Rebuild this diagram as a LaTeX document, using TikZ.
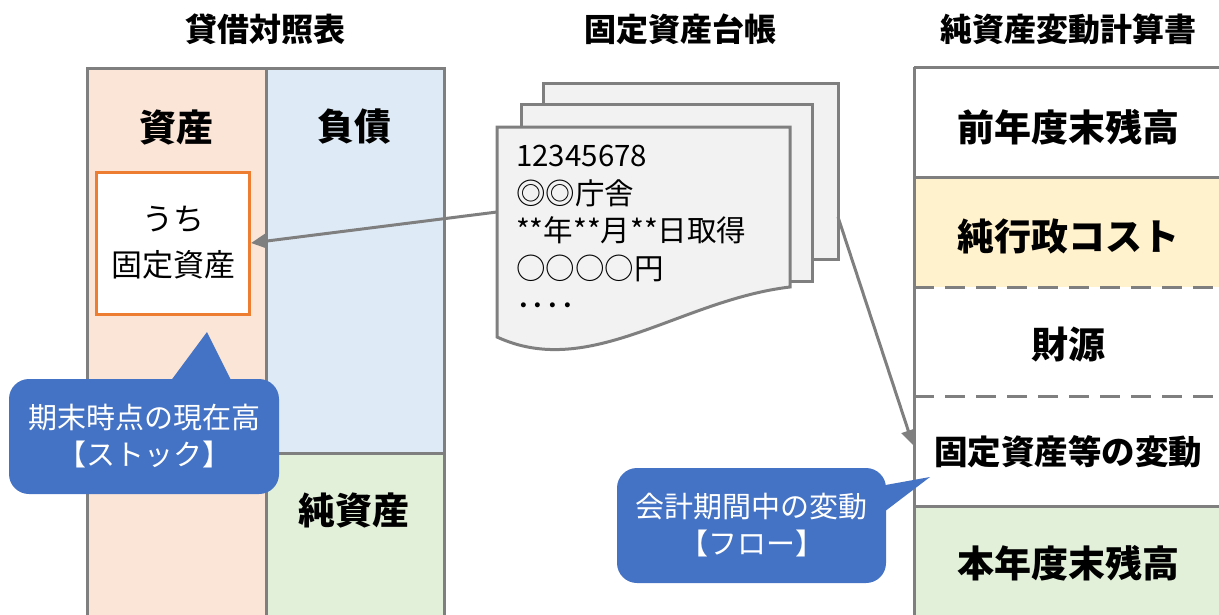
\documentclass[tikz,border=0pt]{standalone}
\usepackage{fontspec}
\setmainfont{Noto Sans CJK JP}
\usetikzlibrary{arrows.meta,calc}
\definecolor{lg}{HTML}{7F7F7F}
\definecolor{peach}{HTML}{FBE5D6}
\definecolor{lblue}{HTML}{DEEBF7}
\definecolor{lgreen}{HTML}{E2F0D9}
\definecolor{lyellow}{HTML}{FFF2CC}
\definecolor{cblue}{HTML}{4472C4}
\definecolor{orng}{HTML}{ED7D31}
\definecolor{paper}{HTML}{F2F2F2}
\tikzset{
  cell/.style={anchor=north west, inner sep=0pt, draw=lg, line width=3pt},
  rowcell/.style={anchor=north west, inner sep=0pt, minimum width=308pt},
  head/.style={font=\fontsize{32}{38}\selectfont\bfseries, inner sep=0pt},
  big/.style={font=\fontsize{37}{44}\selectfont\bfseries, inner sep=0pt},
  callout/.style={fill=cblue, rounded corners=20pt, text=white, align=center,
    font=\fontsize{29}{37}\selectfont, inner sep=0pt},
  sheet/.style={fill=paper, draw=lg, line width=3pt},
  conn/.style={draw=lg, line width=3pt, -{Triangle[length=15pt,width=14pt]}},
}
\begin{document}
\begin{tikzpicture}[x=1pt,y=-1pt]
\useasboundingbox (0,0) rectangle (1219,614);
\clip (0,0) rectangle (1219,614);
% headings
\node[head] (h1) at (265,29) {貸借対照表};
\node[head] (h2) at (680,29) {固定資産台帳};
\node[head] (h3) at (1068,29) {純資産変動計算書};
% balance sheet
\node[cell, fill=peach, minimum width=179pt, minimum height=580pt] (asset) at (86,67) {};
\node[cell, fill=lblue, minimum width=178pt, minimum height=385pt] (liab) at (265,67) {};
\node[cell, fill=lgreen, minimum width=178pt, minimum height=200pt] (net) at (265,452) {};
\node[big] (tasset) at (176,127) {資産};
\node[big] (tliab) at (354,127) {負債};
\node[big] (tnet) at (354,510) {純資産};
\node[draw=orng, line width=3pt, fill=white, minimum width=153pt, minimum height=142pt,
  align=center, font=\fontsize{31}{46}\selectfont, inner sep=0pt] (fixed) at (173,243) {うち\\固定資産};
% callout 1
\node[callout, minimum width=270pt, minimum height=115pt] (c1) at (144,436.5) {期末時点の現在高\\【ストック】};
\fill[cblue] (167,386) -- (207,332) -- (234,386) -- cycle;
% ledger sheets
\path[sheet] (543,83) rectangle (838,259);
\path[sheet] (521,104) rectangle (812,281);
\path[sheet] (497,127) -- (790,127) -- (790,287) .. controls (680,300) and (590,380) .. (497,337) -- cycle;
\node[anchor=north west, align=left, inner sep=0pt, font=\fontsize{29.5}{37.5}\selectfont] (ledger) at (516,145)
  {12345678\\◎◎庁舎\\**年**月**日取得\\○○○○円\\････};
\coordinate (frontL) at (497,212);
\coordinate (backR) at (838,217);
% statement of changes in net assets
\node[rowcell, fill=white, minimum height=110pt] (r1) at (914,67) {};
\node[rowcell, fill=lyellow, minimum height=110pt] (r2) at (914,177) {};
\node[rowcell, fill=white, minimum height=109pt] (r3) at (914,287) {};
\node[rowcell, fill=white, minimum height=110pt] (r4) at (914,396) {};
\node[rowcell, fill=lgreen, minimum height=130pt] (r5) at (914,506) {};
\draw[lg, line width=3pt] (r1.north west) -- (r1.north east);
\draw[lg, line width=3pt] (r1.north west) -- (r5.south west);
\draw[lg, line width=3pt] (r2.north west) -- (r2.north east);
\draw[lg, line width=3pt] (r5.north west) -- (r5.north east);
\draw[lg, line width=3pt, dash pattern=on 20pt off 11pt] (r3.north west) -- (r3.north east);
\draw[lg, line width=3pt, dash pattern=on 20pt off 11pt] (r4.north west) -- (r4.north east);
\node[big] (t1) at (1068,127) {前年度末残高};
\node[big] (t2) at (1068,236) {純行政コスト};
\node[big] (t3) at (1068,345) {財源};
\node[big, font=\fontsize{33.5}{40}\selectfont\bfseries] (t4) at (1068,452) {固定資産等の変動};
\node[big] (t5) at (1068,563) {本年度末残高};
\coordinate (r4in) at (913,445);
% connectors
\draw[conn] (frontL) -- (fixed.east);
\draw[conn] (backR) -- (r4in);
% callout 2
\node[callout, minimum width=269pt, minimum height=115pt] (c2) at (751.5,525.5) {会計期間中の変動\\【フロー】};
\fill[cblue] (880,486) -- (930,477) -- (880,515) -- cycle;
\end{tikzpicture}
\end{document}
